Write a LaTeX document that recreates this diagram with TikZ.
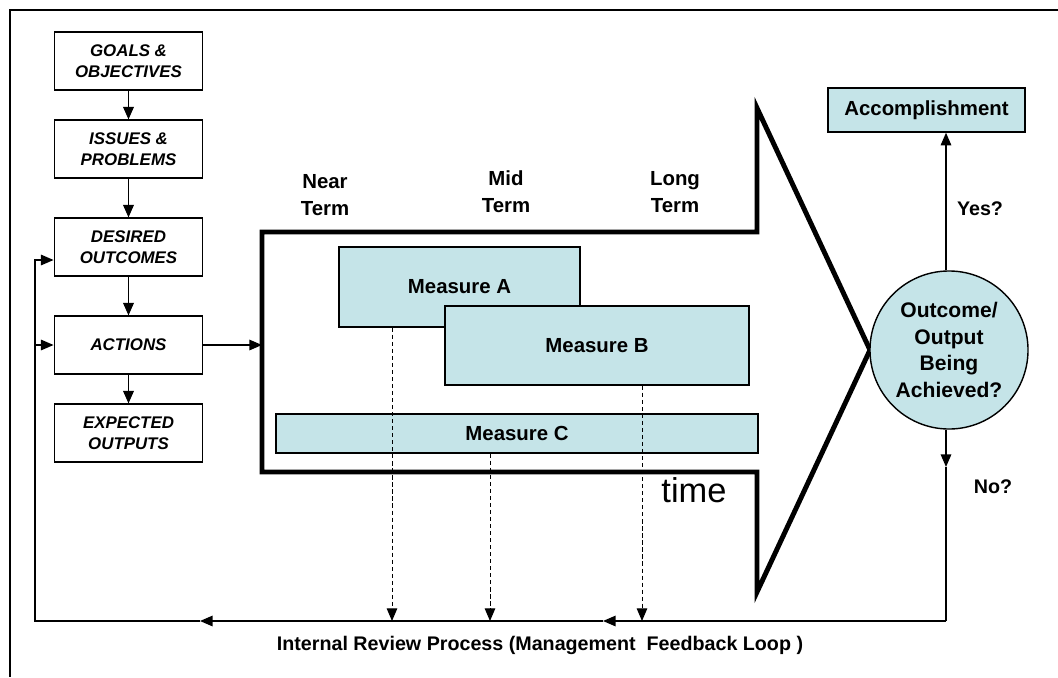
\documentclass[tikz,border=0pt]{standalone}
\usepackage{fontspec}
\setmainfont{Liberation Sans}
\usetikzlibrary{arrows.meta,positioning,calc}
\definecolor{paleteal}{RGB}{197,228,232}

\begin{document}
\begin{tikzpicture}[x=0.025cm,y=-0.025cm,
    >={Triangle[length=9pt,width=7.5pt]},
    stepbox/.style={draw, line width=1.3pt, minimum width=3.7cm, minimum height=1.43cm,
        inner sep=0pt, align=center, font=\fontsize{12}{14.5}\selectfont\bfseries\itshape},
    measbox/.style={draw, line width=1pt, fill=paleteal, inner sep=0pt,
        font=\fontsize{14.5}{17}\selectfont\bfseries},
    term/.style={align=center, font=\fontsize{14.5}{19}\selectfont\bfseries},
    link/.style={->, line width=1pt},
    steplink/.style={->, line width=1.4pt},
    review/.style={->, line width=0.7pt, densely dashed}]
    \useasboundingbox (0,0) rectangle (1058,677);
    \draw[line width=0.8pt] (1058,10) -- (10,10) -- (10,677);

    % steps on the left
    \node[stepbox] (goals) at (128.5,61) {GOALS \&\\OBJECTIVES};
    \node[stepbox] (issues) at (128.5,149) {ISSUES \&\\PROBLEMS};
    \node[stepbox] (desired) at (128.5,247) {DESIRED\\OUTCOMES};
    \node[stepbox] (actions) at (128.5,345) {ACTIONS};
    \node[stepbox] (expected) at (128.5,433) {EXPECTED\\OUTPUTS};

    \draw[steplink] (goals) -- (issues);
    \draw[steplink] (issues) -- (desired);
    \draw[steplink] (desired) -- (actions);
    \draw[steplink] (actions) -- (expected);

    % time arrow
    \coordinate (b1) at (262,232);
    \coordinate (b2) at (757,232);
    \coordinate (h1) at (757,108);
    \coordinate (tip) at (870,350);
    \coordinate (h2) at (757,592);
    \coordinate (b3) at (757,472);
    \coordinate (b4) at (262,472);
    \draw[line width=3.5pt, line join=miter] (b1) -- (b2) -- (h1) -- (tip) -- (h2) -- (b3) -- (b4) -- cycle;
    \draw[link] (actions.east) -- (actions.east -| b1);

    \node[term] (near) at (325,195) {Near\\Term};
    \node[term] (mid) at (506,192) {Mid\\Term};
    \node[term] (long) at (675,192) {Long\\Term};
    \node[font=\fontsize{24.5}{28}\selectfont] (time) at (694,490) {time};

    \node[measbox, minimum width=6.025cm, minimum height=2cm] (measA) at (459.5,287) {Measure A};
    \node[measbox, minimum width=7.6cm, minimum height=1.975cm] (measB) at (597,345.5) {Measure B};
    \node[measbox, minimum width=12.05cm, minimum height=0.975cm] (measC) at (517,433.5) {Measure C};

    % decision
    \node[draw, line width=1pt, fill=paleteal, circle, minimum size=3.95cm, inner sep=0pt, align=center,
        font=\fontsize{15}{19}\selectfont\bfseries] (outcome) at (949,350) {Outcome/\\Output\\Being\\Achieved?};
    \node[measbox, minimum width=4.925cm, minimum height=1.1cm] (accomp) at (926.5,110) {Accomplishment};
    \draw[link] (outcome.north -| 946,0) -- node[pos=0.45, right=4pt, font=\fontsize{14}{16}\selectfont\bfseries] {Yes?} (accomp.south -| 946,0);

    % feedback loop
    \coordinate (lp1) at (946,621);
    \coordinate (lp2) at (603,621);
    \coordinate (lp3) at (200,621);
    \coordinate (lp4) at (35,621);
    \coordinate (lp5) at (35,260);
    \coordinate (nomid) at (946,467);
    \draw[link] (outcome.south -| 946,0) -- (nomid);
    \draw[line width=1pt] (nomid) -- (lp1);
    \node[font=\fontsize{14}{16}\selectfont\bfseries] (no) at (993,487) {No?};
    \draw[link] (lp1) -- (lp2);
    \draw[link] (lp2) -- (lp3);
    \draw[link] (lp3) -- (lp4) -- (lp5) -- (desired.west |- lp5);
    \draw[link] (actions.west -| lp4) -- (actions.west);

    \draw[review] (measA.south -| 392,0) -- (392,621);
    \draw[review] (measC.south -| 490,0) -- (490,621);
    \draw[review] (measB.south -| 642,0) -- (642,621);

    \node[font=\fontsize{14}{16}\selectfont\bfseries] (loop) at (540,645) {Internal Review Process (Management\ \ Feedback Loop~)};
\end{tikzpicture}
\end{document}
